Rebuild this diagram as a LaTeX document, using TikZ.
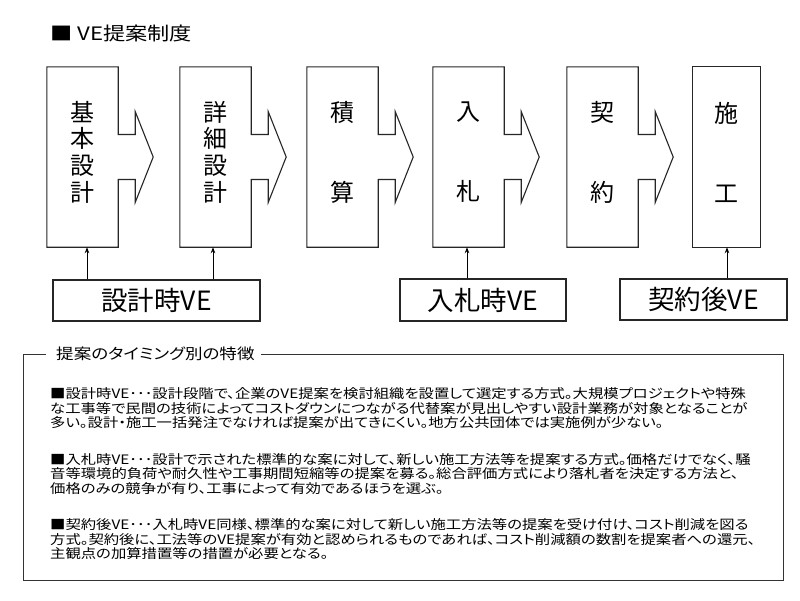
\documentclass[tikz,border=0pt]{standalone}
\usepackage{fontspec}
\setmainfont{Noto Sans CJK JP}
\newfontfamily\jpbox{Noto Sans CJK JP}
\newfontfamily\jpwide[FakeStretch=1.18,RawFeature=+palt]{Noto Sans CJK JP}
\newfontfamily\jphead[FakeStretch=1.17,RawFeature=+palt]{Noto Sans CJK JP}
\newfontfamily\jptitle[FakeStretch=1.2]{Noto Sans CJK JP}
\usetikzlibrary{arrows.meta,calc}
\begin{document}
\begin{tikzpicture}[x=1pt,y=-1pt,
  mainbox/.style={minimum width=71pt,minimum height=180pt,inner sep=0pt,draw=none},
  outl/.style={draw=black!85,line width=1.1pt,line join=miter},
  vebox/.style={draw=black!85,line width=1.1pt,inner sep=0pt,font=\jpbox\fontsize{26.5pt}{26.5pt}\selectfont},
  vlabel/.style={font=\jpbox\fontsize{24pt}{26.7pt}\selectfont,align=center,inner sep=0pt},
  vlabeltwo/.style={font=\jpbox\fontsize{24pt}{80pt}\selectfont,align=center,inner sep=0pt},
  conn/.style={draw=black,line width=0.9pt,-{Stealth[length=6pt,width=4.5pt]}},
  bodyline/.style={anchor=base west,inner sep=0pt,font=\jpwide\fontsize{13pt}{14.5pt}\selectfont},
  frame/.style={draw=black!80,line width=1pt},
]
\fill[white] (0,0) rectangle (800,600);
\useasboundingbox (0,0) rectangle (800,600);

% title
\node[anchor=west,inner sep=0pt,font=\jptitle\fontsize{18.5pt}{18.5pt}\selectfont] (title) at (50,33) {■ VE提案制度};

% main boxes
\node[mainbox] (m1) at (82.5,157) {};
\node[mainbox] (m2) at (215.5,157) {};
\node[mainbox] (m3) at (342.5,157) {};
\node[mainbox] (m4) at (468.5,157) {};
\node[mainbox] (m5) at (602.5,157) {};
\node[mainbox,minimum width=67pt] (m6) at (726.5,157) {};

\foreach \m in {m1,m2,m3,m4,m5}{
  \draw[outl] (\m.north west) -- (\m.north east) -- ([yshift=22.5pt]\m.east)
    -- ([shift={(17pt,22.5pt)}]\m.east) -- ([shift={(17pt,45.5pt)}]\m.east)
    -- ([shift={(35pt,0pt)}]\m.east) -- ([shift={(17pt,-45.5pt)}]\m.east)
    -- ([shift={(17pt,-22.5pt)}]\m.east) -- ([yshift=-22.5pt]\m.east)
    -- (\m.south east) -- (\m.south west) -- cycle;
}
\draw[outl] (m6.north west) rectangle (m6.south east);

% box labels
\node[vlabel] (t1) at (82.5,152) {基\\本\\設\\計};
\node[vlabel] (t2) at (215.5,152) {詳\\細\\設\\計};
\node[vlabeltwo] (t3) at (342.5,152) {積\\算};
\node[vlabeltwo] (t4) at (468.5,152) {入\\札};
\node[vlabeltwo] (t5) at (602.5,152) {契\\約};
\node[vlabeltwo] (t6) at (726.5,152) {施\\工};

% VE boxes
\node[vebox,minimum width=207pt,minimum height=41pt] (v1) at (156.5,300.5) {設計時VE};
\node[vebox,minimum width=166pt,minimum height=42pt] (v2) at (483,300) {入札時VE};
\node[vebox,minimum width=167pt,minimum height=41pt] (v3) at (703.5,299.5) {契約後VE};

\coordinate (a1) at ([xshift=4.5pt]m1.south);
\coordinate (a2) at ([xshift=-2.5pt]m2.south);
\coordinate (a4) at ([xshift=-1.5pt]m4.south);
\coordinate (a6) at ([xshift=0.5pt]m6.south);
\draw[conn] (a1 |- v1.north) -- (a1);
\draw[conn] (a2 |- v1.north) -- (a2);
\draw[conn] (a4 |- v2.north) -- (a4);
\draw[conn] (a6 |- v3.north) -- (a6);

% lower panel
\node[anchor=west,inner sep=0pt,font=\jphead\fontsize{15pt}{15pt}\selectfont] (hd) at (56,354) {提案のタイミング別の特徴};
\draw[frame] ([xshift=-10pt]hd.west) -- (23,354) -- (23,580) -- (783,580) -- (783,354) -- ([xshift=6pt]hd.east);

\node[bodyline] (p11) at (50,398.5) {■設計時VE･･･設計段階で、企業のVE提案を検討組織を設置して選定する方式。大規模プロジェクトや特殊};
\node[bodyline] (p12) at (50,413) {な工事等で民間の技術によってコストダウンにつながる代替案が見出しやすい設計業務が対象となることが};
\node[bodyline] (p13) at (50,427.5) {多い。設計・施工一括発注でなければ提案が出てきにくい。地方公共団体では実施例が少ない。};
\node[bodyline] (p21) at (50,464) {■入札時VE･･･設計で示された標準的な案に対して、新しい施工方法等を提案する方式。価格だけでなく、騒};
\node[bodyline] (p22) at (50,478.5) {音等環境的負荷や耐久性や工事期間短縮等の提案を募る。総合評価方式により落札者を決定する方法と、};
\node[bodyline] (p23) at (50,493) {価格のみの競争が有り、工事によって有効であるほうを選ぶ。};
\node[bodyline] (p31) at (50,529.5) {■契約後VE･･･入札時VE同様、標準的な案に対して新しい施工方法等の提案を受け付け、コスト削減を図る};
\node[bodyline] (p32) at (50,544) {方式。契約後に、工法等のVE提案が有効と認められるものであれば、コスト削減額の数割を提案者への還元、};
\node[bodyline] (p33) at (50,558.5) {主観点の加算措置等の措置が必要となる。};
\end{tikzpicture}
\end{document}
